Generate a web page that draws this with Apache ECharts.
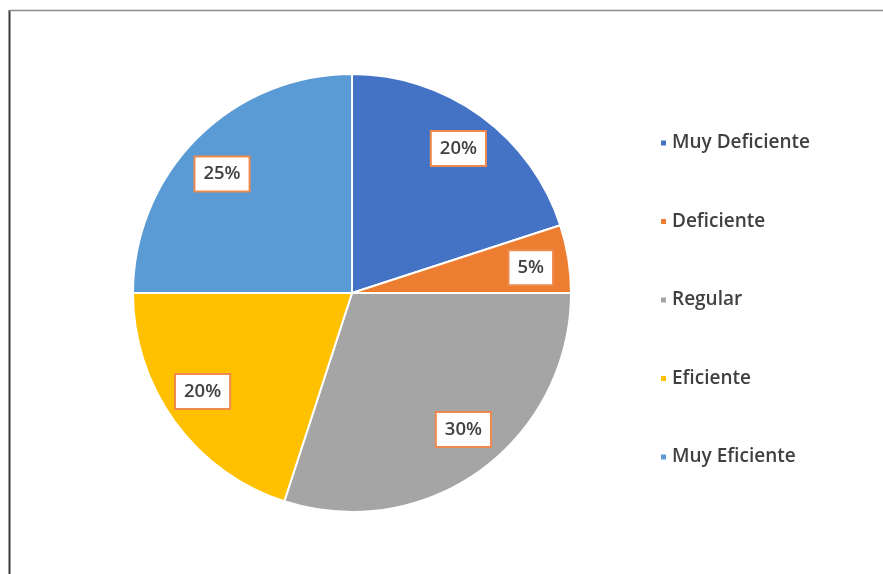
<!DOCTYPE html>
<html>
<head>
<meta charset="utf-8">
<script src="https://cdn.jsdelivr.net/npm/echarts@6/dist/echarts.min.js"></script>
<style>
  html, body { margin: 0; padding: 0; background: #fff; }
  #chart { width: 883px; height: 574px; }
</style>
</head>
<body>
<div id="chart"></div>
<script>
// Categories and their share (percent)
var categories = ['Muy Deficiente', 'Deficiente', 'Regular', 'Eficiente', 'Muy Eficiente'];
var shares = [20, 5, 30, 20, 25];
var colors = ['#4472C4', '#ED7D31', '#A5A5A5', '#FFC000', '#5B9BD5'];

var FONT = '"Open Sans", "Liberation Sans", sans-serif';

// small per-slice nudges of the value boxes (best-fit placement)
var LABEL_NUDGE = [[0, 2], [0, 3], [5, -10], [-3, -8], [-2, 9]];

var sliceData = categories.map(function (name, i) {
  return { name: name, value: shares[i] };
});
var labelData = categories.map(function (name, i) {
  return { name: name, value: shares[i], label: { offset: LABEL_NUDGE[i] } };
});

var chart = echarts.init(document.getElementById('chart'), null, { renderer: 'canvas' });

chart.setOption({
  animation: false,
  color: colors,
  backgroundColor: '#ffffff',
  graphic: [
    // chart frame (top and left edges visible)
    { type: 'line', shape: { x1: 9.5, y1: 10, x2: 9.5, y2: 574 }, style: { stroke: '#3a3a3a', lineWidth: 2 } },
    { type: 'line', shape: { x1: 9, y1: 10.5, x2: 883, y2: 10.5 }, style: { stroke: '#8c8c8c', lineWidth: 1.5 } }
  ],
  legend: {
    orient: 'vertical',
    left: 654,
    top: 128,
    itemWidth: 7,
    itemHeight: 7,
    itemGap: 58.5,
    icon: 'rect',
    data: categories,
    textStyle: { fontFamily: FONT, fontSize: 19, fontWeight: 600, color: '#404040', lineHeight: 20 }
  },
  series: [
    {
      type: 'pie',
      center: [352, 293],
      radius: [0, 219],
      startAngle: 90,
      clockwise: true,
      label: { show: false },
      labelLine: { show: false },
      itemStyle: { borderColor: '#ffffff', borderWidth: 2 },
      emphasis: { disabled: true },
      data: sliceData
    },
    {
      // label carrier ring: same slices, transparent, labels at its mid radius
      type: 'pie',
      center: [352, 293],
      radius: [136, 220],
      startAngle: 90,
      clockwise: true,
      silent: true,
      legendHoverLink: false,
      itemStyle: { color: 'rgba(0,0,0,0)', borderWidth: 0 },
      emphasis: { disabled: true },
      labelLine: { show: false },
      label: {
        show: true,
        position: 'inside',
        formatter: function (p) { return p.value + '%'; },
        fontFamily: FONT,
        fontSize: 18.5,
        fontWeight: 600,
        lineHeight: 22,
        color: '#404040',
        backgroundColor: '#ffffff',
        borderColor: '#EE8A4E',
        borderWidth: 2,
        padding: [6, 8, 5, 8]
      },
      data: labelData
    }
  ]
});
</script>
</body>
</html>
